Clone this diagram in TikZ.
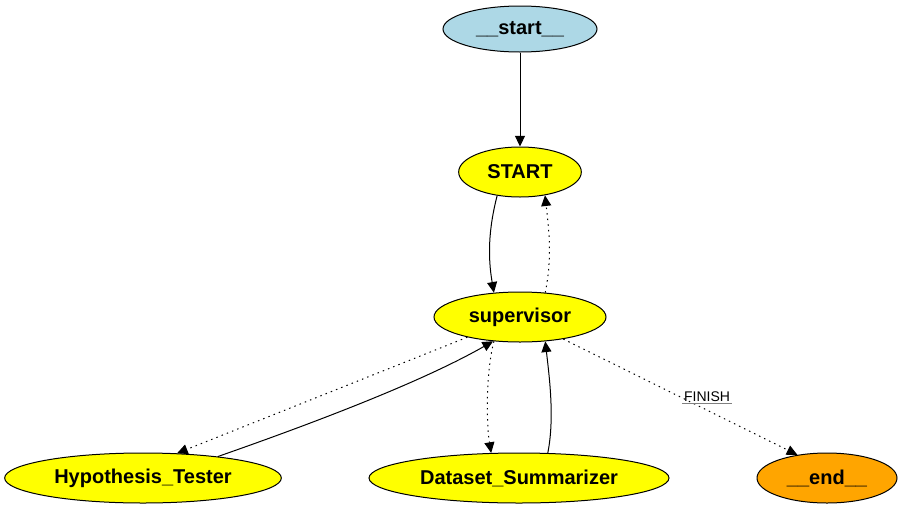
\documentclass[tikz,border=0pt]{standalone}
\usepackage{fontspec}
\setmainfont{Liberation Sans}
\usetikzlibrary{shapes.geometric,arrows.meta}
\definecolor{gvblue}{RGB}{173,216,230}
\definecolor{gvyellow}{RGB}{255,255,0}
\definecolor{gvorange}{RGB}{255,165,0}
\begin{document}
\begin{tikzpicture}[x=0.75pt,y=-0.75pt,
  gvnode/.style={ellipse,draw=black,line width=0.75pt,inner sep=0pt,minimum height=37.5pt,
    font=\fontsize{15}{17}\selectfont\bfseries},
  gvedge/.style={line width=0.75pt,-{Triangle[length=8pt,width=7.5pt]}},
  gvdot/.style={gvedge,dash pattern=on 1.1pt off 3.1pt}]
\useasboundingbox (0,0) rectangle (904,511);
\node[gvnode,fill=gvblue,minimum width=115.5pt,minimum height=34.5pt] (st) at (520,29) {\_\_start\_\_};
\node[gvnode,fill=gvyellow,minimum width=92pt] (START) at (520,172) {START};
\node[gvnode,fill=gvyellow,minimum width=129pt] (sup) at (520,317) {supervisor};
\node[gvnode,fill=gvyellow,minimum width=207.5pt] (ht) at (143,478) {Hypothesis\_Tester};
\node[gvnode,fill=gvyellow,minimum width=225pt] (ds) at (519,478) {Dataset\_Summarizer};
\node[gvnode,fill=gvorange,minimum width=105pt] (en) at (827,478) {\_\_end\_\_};

\draw[gvedge] (st) -- (START);
\draw[gvedge] (START.226) .. controls +(-9,35) and +(-6,-35) .. (sup.137);
\draw[gvdot] (sup.44) .. controls +(7,-35) and +(4,35) .. (START.317);
\draw[gvdot] (sup.201) -- (ht.36);
\draw[gvedge] (ht.16) .. controls +(100,-35) and +(-70,40) .. (sup.222);
\draw[gvdot] (sup.223) .. controls +(-8,30) and +(-5,-30) .. (ds.138);
\draw[gvedge] (ds.41) .. controls +(7,-35) and +(4,35) .. (sup.316);
\draw[gvdot] (sup.333) -- (en.142);
\node[font=\fontsize{10.5}{12}\selectfont,inner sep=1pt,anchor=south] (finish) at (707,403) {FINISH};
\draw[gray,line width=0.75pt] (finish.south west) -- (finish.south east);
\end{tikzpicture}
\end{document}
